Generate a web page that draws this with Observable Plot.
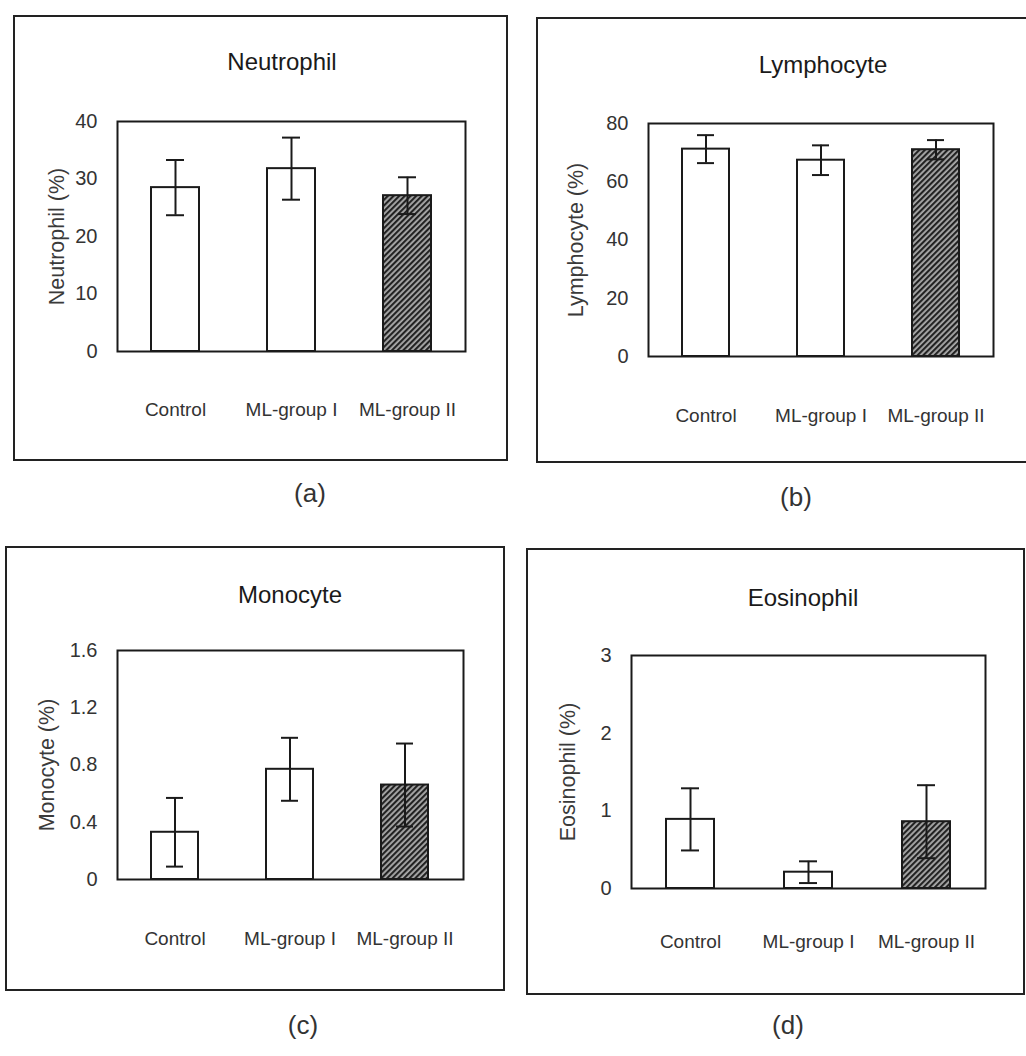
<!DOCTYPE html>
<html><head><meta charset="utf-8">
<script src="https://cdn.jsdelivr.net/npm/d3@7"></script>
<script src="https://cdn.jsdelivr.net/npm/@observablehq/plot@0.6"></script>
<style>
html,body{margin:0;padding:0;background:#fff;width:1026px;height:1056px;overflow:hidden;}
#root{position:relative;width:1026px;height:1056px;font-family:"Liberation Sans",Arial,sans-serif;}
.panel{position:absolute;}
.box{position:absolute;left:0;top:0;right:0;bottom:0;border:2px solid #222;box-sizing:border-box;}
.panel svg.chart{position:absolute;left:0;top:0;overflow:visible;}
.title{position:absolute;font-size:24px;color:#1a1a1a;transform:translate(-50%,-50%);white-space:nowrap;}
.letter{position:absolute;font-size:26px;color:#333;transform:translate(-50%,-50%);}
</style></head><body>
<svg width="0" height="0" style="position:absolute">
  <defs>
    <pattern id="hatch" patternUnits="userSpaceOnUse" width="4" height="4" patternTransform="rotate(45)">
      <rect width="4" height="4" fill="#aaaaaa"></rect>
      <line x1="1" y1="0" x2="1" y2="4" stroke="#222" stroke-width="2.3"></line>
    </pattern>
  </defs>
</svg>
<div id="root"></div>
<script>
// ---- data ----
const categories = ["Control", "ML-group I", "ML-group II"];
const titles = ["Neutrophil", "Lymphocyte", "Monocyte", "Eosinophil"];
const yLabels = ["Neutrophil (%)", "Lymphocyte (%)", "Monocyte (%)", "Eosinophil (%)"];
const panelLetters = ["(a)", "(b)", "(c)", "(d)"];

const neutrophilMean = [28.5, 31.8, 27.1];
const neutrophilErr = [4.8, 5.4, 3.2];
const lymphocyteMean = [71.2, 67.4, 71.0];
const lymphocyteErr = [4.8, 5.1, 3.3];
const monocyteMean = [0.33, 0.77, 0.66];
const monocyteErr = [0.24, 0.22, 0.29];
const eosinophilMean = [0.89, 0.21, 0.86];
const eosinophilErr = [0.40, 0.14, 0.47];

const neutrophilTicks = [0, 10, 20, 30, 40];
const lymphocyteTicks = [0, 20, 40, 60, 80];
const monocyteTicks = [0, 0.4, 0.8, 1.2, 1.6];
const eosinophilTicks = [0, 1, 2, 3];

const fills = ["white", "white", "url(#hatch)"];

// ---- layout (page pixels) ----
const layout = [
  {left: 13, top: 15, w: 495, h: 446, ml: 104, mt: 106, mr: 43, mb: 110, tx: 269, ty: 47, lx: 310, ly: 493, pad: 51, lab: -60},
  {left: 536, top: 17, w: 494, h: 446, ml: 112, mt: 106, mr: 37, mb: 107, tx: 287, ty: 48, lx: 796, ly: 497, pad: 52, lab: -72},
  {left: 5, top: 546, w: 500, h: 445, ml: 112, mt: 104, mr: 42, mb: 112, tx: 285, ty: 49, lx: 303, ly: 1025, pad: 52, lab: -70},
  {left: 526, top: 548, w: 499, h: 447, ml: 105, mt: 107, mr: 40, mb: 107, tx: 277, ty: 50, lx: 788, ly: 1025, pad: 46, lab: -63}
];

const means = [neutrophilMean, lymphocyteMean, monocyteMean, eosinophilMean];
const errs = [neutrophilErr, lymphocyteErr, monocyteErr, eosinophilErr];
const ticks = [neutrophilTicks, lymphocyteTicks, monocyteTicks, eosinophilTicks];
const formats = [d => String(d), d => String(d), d => d === 0 ? "0" : d.toFixed(1), d => String(d)];

const root = document.getElementById("root");

for (let i = 0; i < 4; i++) {
  const L = layout[i];
  const rows = categories.map((c, j) => ({
    cat: c, mean: means[i][j], lo: means[i][j] - errs[i][j], hi: means[i][j] + errs[i][j], fill: fills[j]
  }));
  const tk = ticks[i];

  const panel = document.createElement("div");
  panel.className = "panel";
  panel.style.left = L.left + "px";
  panel.style.top = L.top + "px";
  panel.style.width = L.w + "px";
  panel.style.height = L.h + "px";

  const box = document.createElement("div");
  box.className = "box";
  panel.appendChild(box);

  const chart = Plot.plot({
    width: L.w,
    height: L.h,
    marginLeft: L.ml,
    marginTop: L.mt,
    marginRight: L.mr,
    marginBottom: L.mb,
    style: {fontFamily: '"Liberation Sans", Arial, sans-serif', fontSize: "19px", color: "#333", background: "transparent", overflow: "visible"},
    x: {domain: categories, paddingInner: 0.59, paddingOuter: 0.295},
    y: {domain: [0, tk[tk.length - 1]]},
    marks: [
      Plot.barY(rows, {x: "cat", y: "mean", fill: "fill", stroke: "#1a1a1a", strokeWidth: 2}),
      Plot.ruleX(rows, {x: "cat", y1: "lo", y2: "hi", stroke: "#1a1a1a", strokeWidth: 2}),
      Plot.tickY(rows, {x: "cat", y: "hi", stroke: "#1a1a1a", strokeWidth: 2, insetLeft: 15, insetRight: 15}),
      Plot.tickY(rows, {x: "cat", y: "lo", stroke: "#1a1a1a", strokeWidth: 2, insetLeft: 15, insetRight: 15}),
      Plot.frame({stroke: "#1a1a1a", strokeWidth: 2}),
      Plot.axisY({ticks: tk, tickSize: 0, tickPadding: 20, tickFormat: formats[i], label: null, fontSize: 20}),
      Plot.axisX({tickSize: 0, tickPadding: L.pad, label: null, fontSize: 19}),
      Plot.text([yLabels[i]], {text: d => d, frameAnchor: "left", rotate: -90, dx: L.lab,
        fontSize: 21.5, fill: "#3a3a3a", textAnchor: "middle", lineAnchor: "middle"})
    ]
  });
  chart.classList.add("chart");
  panel.appendChild(chart);

  const t = document.createElement("div");
  t.className = "title";
  t.textContent = titles[i];
  t.style.left = L.tx + "px";
  t.style.top = L.ty + "px";
  panel.appendChild(t);

  root.appendChild(panel);

  const letter = document.createElement("div");
  letter.className = "letter";
  letter.textContent = panelLetters[i];
  letter.style.left = L.lx + "px";
  letter.style.top = L.ly + "px";
  root.appendChild(letter);
}
</script>
</body></html>
